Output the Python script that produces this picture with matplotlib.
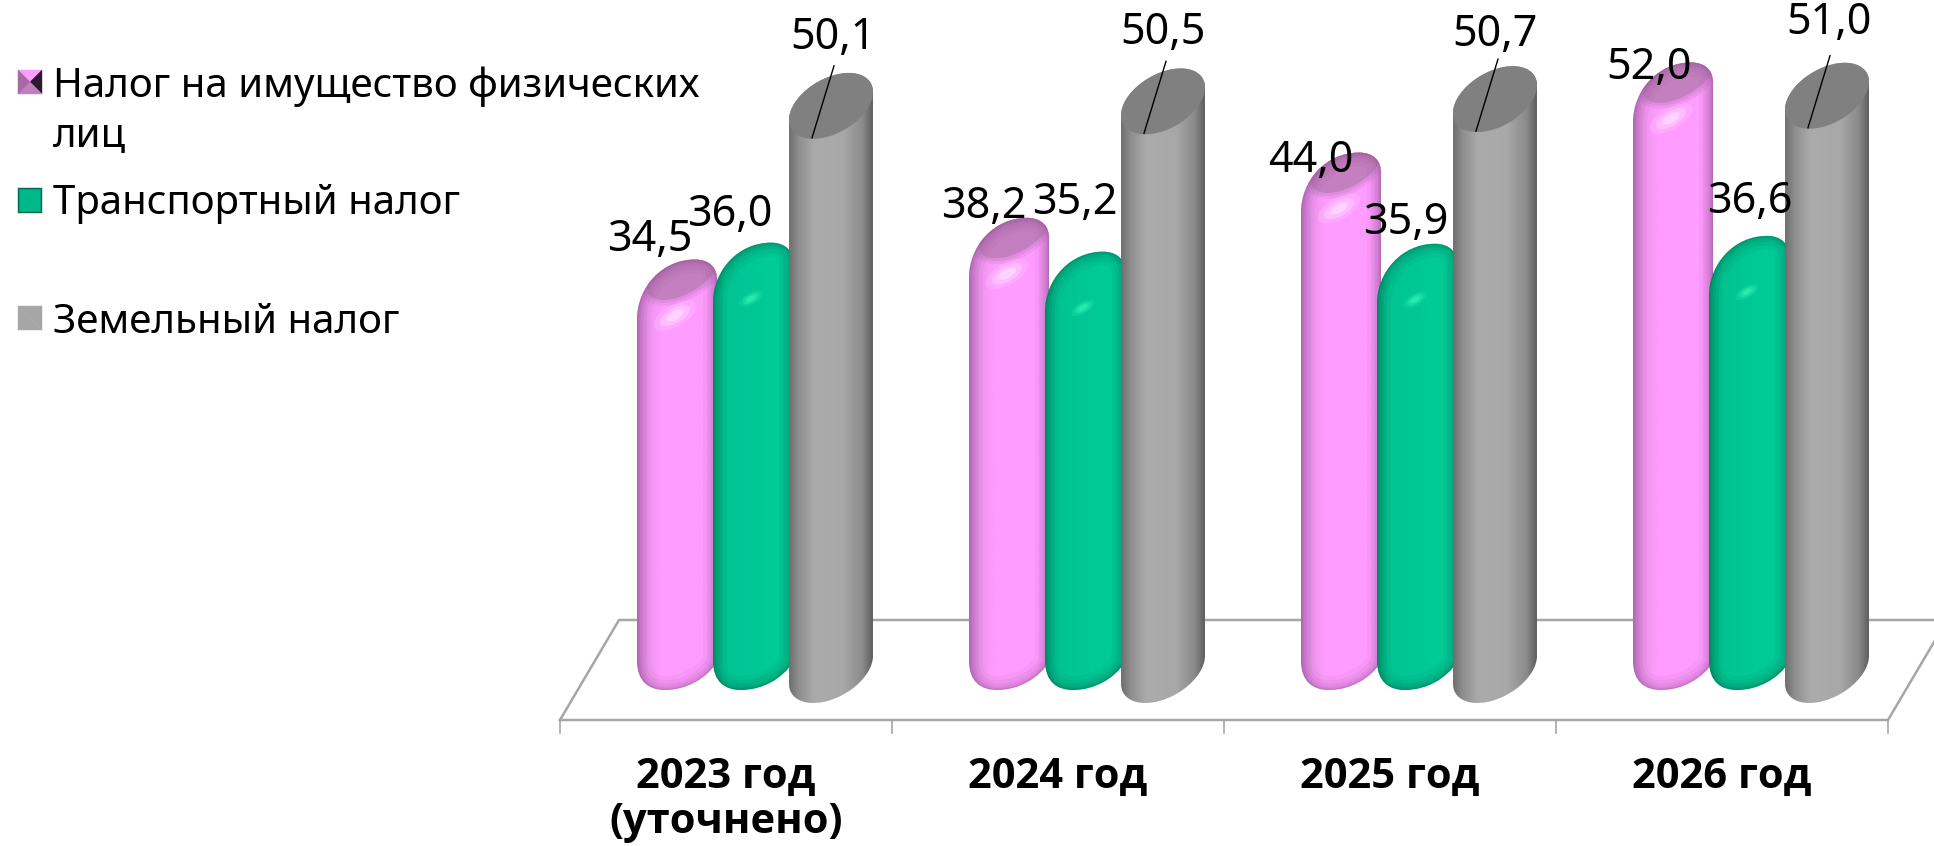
import numpy as np
import matplotlib
matplotlib.use('Agg')
import matplotlib.pyplot as plt
from matplotlib.colors import LinearSegmentedColormap
from matplotlib.patches import PathPatch, Polygon
from matplotlib.path import Path

years = ['2023 год\n(уточнено)', '2024 год', '2025 год', '2026 год']
property_tax = [34.5, 38.2, 44.0, 52.0]
transport_tax = [36.0, 35.2, 35.9, 36.6]
land_tax = [50.1, 50.5, 50.7, 51.0]
legend_labels = ['Налог на имущество физических\nлиц', 'Транспортный налог', 'Земельный налог']

# figure layout, in pixels of the 1934x846 picture
W, H = 1934, 846
X0, GROUP_W = 560, 332
Y0, UNIT = 670, 11.26
FONT = 'Noto Sans'
FONT_BOLD = 'Open Sans'
FS_TEXT = 29
FS_VALUE = 31
FS_TICK = 30

# label anchors per series: pixel offsets from the group start / absolute y
label_x = {'pink': [90, 92, 87, 93], 'green': [170, 183, 182, 194], 'gray': [273, 271, 271, 273]}
label_y = {'pink': [240, 207, 161, 68], 'green': [215, 203, 223, 202], 'gray': [38, 33, 35, 23]}


def px_x(p):
    return (p - X0) / GROUP_W


def px_y(p):
    return (Y0 - p) / UNIT


def arc(cx, cy, a, b, t1, t2, n=60):
    th = np.radians(30)
    t = np.linspace(t1, t2, n)
    x = a * np.cos(t) * np.cos(th) - b * np.sin(t) * np.sin(th)
    y = a * np.cos(t) * np.sin(th) + b * np.sin(t) * np.cos(th)
    return np.column_stack([cx + x / GROUP_W, cy + y / UNIT])


def right_t(a, b):
    th = np.radians(30)
    return np.arctan2(-b * np.sin(th), a * np.cos(th))


def cylinder_path(cx, y_bot, y_top, a, b):
    t0 = right_t(a, b)
    low = arc(cx, y_bot, a, b, t0 + np.pi, t0 + 2 * np.pi)
    up = arc(cx, y_top, a, b, t0, t0 + np.pi)
    pts = np.vstack([low, up, low[:1]])
    return Path(pts, closed=True)


def rounded_path(left, peak, bottom):
    # bevelled column outline: offsets in px from left edge, peak and bottom
    def p(dx, y, dy):
        return (left + dx / GROUP_W, y - dy / UNIT)
    verts = [p(0, bottom, -30),
             p(0, bottom, -8), p(12, bottom, 0), p(28, bottom, 0),
             p(50, bottom, 0), p(70, bottom, -12), p(80, bottom, -28),
             p(80, peak, 22),
             p(81, peak, 8), p(72, peak, 0), p(58, peak, 0),
             p(25, peak, 0), p(0, peak, 28), p(0, peak, 60),
             p(0, bottom, -30)]
    codes = [Path.MOVETO, Path.CURVE4, Path.CURVE4, Path.CURVE4, Path.CURVE4, Path.CURVE4, Path.CURVE4,
             Path.LINETO, Path.CURVE4, Path.CURVE4, Path.CURVE4, Path.CURVE4, Path.CURVE4, Path.CURVE4,
             Path.CLOSEPOLY]
    return Path(verts, codes)


def draw_gradient(ax, path, x1, x2, y1, y2, stops, z):
    cmap = LinearSegmentedColormap.from_list('c', stops)
    im = ax.imshow(np.linspace(0, 1, 256).reshape(1, -1), cmap=cmap, aspect='auto',
                   extent=[x1, x2, y1, y2], zorder=z, interpolation='bilinear')
    im.set_clip_path(PathPatch(path, transform=ax.transData, fc='none', ec='none'))


def inner_shadow(ax, path, color, z):
    for lw, al in [(20, 0.05), (14, 0.07), (9, 0.08), (5, 0.10), (2, 0.18)]:
        pp = PathPatch(path, fc='none', ec=color, lw=lw, alpha=al, zorder=z)
        ax.add_patch(pp)
        pp.set_clip_path(PathPatch(path, transform=ax.transData))


def rounded_bar(ax, i, off, value, stops, edge, cap, glow, glow_size, z):
    left = i + off / GROUP_W
    cx = left + 40 / GROUP_W
    peak = value + 22 / UNIT
    bottom = -20 / UNIT
    path = rounded_path(left, peak, bottom)
    draw_gradient(ax, path, left, left + 81 / GROUP_W, bottom, peak, stops, z)
    if cap is not None:
        # darker cap with a soft lower rim
        for da, al in [(6, 0.25), (3, 0.35), (0, 1.0)]:
            p = Polygon(arc(cx + 6 / GROUP_W, peak - 14 / UNIT, 40 + da, 20 + da, 0, 2 * np.pi),
                        fc=cap, ec='none', alpha=al, zorder=z + 0.1)
            ax.add_patch(p)
            p.set_clip_path(PathPatch(path, transform=ax.transData))
    gx, gy = cx - 2 / GROUP_W, peak - 56 / UNIT
    for s, al in [(1.0, 0.18), (0.7, 0.35), (0.4, 0.6)]:
        ax.add_patch(Polygon(arc(gx, gy, glow_size * s, glow_size * 0.45 * s, 0, 2 * np.pi),
                             fc=glow, ec='none', alpha=al, zorder=z + 0.2))
    inner_shadow(ax, path, edge, z + 0.3)


def gray_bar(ax, i, off, value, z):
    cx = i + off / GROUP_W
    a, b = 45.8, 27.4
    path = cylinder_path(cx, 0, value, a, b)
    stops = [(0, '#6e6e6e'), (0.12, '#8f8f8f'), (0.3, '#ababab'), (0.65, '#a8a8a8'), (0.88, '#8a8a8a'), (1, '#5e5e5e')]
    draw_gradient(ax, path, cx - 42 / GROUP_W, cx + 42 / GROUP_W, -40 / UNIT, value + 40 / UNIT, stops, z)
    ax.add_patch(Polygon(arc(cx, value, a, b, 0, 2 * np.pi), fc='#808080', ec='none', zorder=z + 0.1))
    # leader line from the value label into the cap
    ax.plot([cx + 3 / GROUP_W, cx - 19 / GROUP_W], [value + 40 / UNIT, value - 32 / UNIT],
            color='black', lw=1.0, zorder=z + 0.2)


fig = plt.figure(figsize=(W / 100, H / 100), dpi=100, facecolor='white')
ax = fig.add_axes([0, 0, 1, 1])
ax.set_xlim(px_x(0), px_x(W))
ax.set_ylim(px_y(H), px_y(0))
ax.set_autoscale_on(False)
ax.axis('off')

# floor
n = len(years)
floor_col = '#a6a6a6'
floor_front, floor_back = px_y(720), px_y(620)
slant = 59 / GROUP_W
ax.plot([0, n, n + slant, slant, 0], [floor_front, floor_front, floor_back, floor_back, floor_front],
        color=floor_col, lw=1.8, zorder=1)
for i in range(n + 1):
    ax.plot([i, i], [floor_front, px_y(733)], color=floor_col, lw=1.2, zorder=1)

pink_stops = [(0, '#d583d5'), (0.15, '#ef95ef'), (0.3, '#ff9cff'), (0.85, '#ff9cff'), (1, '#e18be1')]
green_stops = [(0, '#00b082'), (0.15, '#00c493'), (0.8, '#00cc98'), (1, '#00c08f')]

for i in range(n):
    rounded_bar(ax, i, 77, property_tax[i], pink_stops, '#7a3c7a', '#c47fc0', '#ffe4ff', 24, 2 + i * 0.01)
    rounded_bar(ax, i, 153, transport_tax[i], green_stops, '#004f3a', None, '#33f5b8', 13, 3 + i * 0.01)
    gray_bar(ax, i, 271, land_tax[i], 4 + i * 0.01)

# value labels
for key, vals in [('pink', property_tax), ('green', transport_tax), ('gray', land_tax)]:
    for i, v in enumerate(vals):
        ax.text(i + label_x[key][i] / GROUP_W, px_y(label_y[key][i]), f'{v:.1f}'.replace('.', ','),
                ha='center', va='center', fontsize=FS_VALUE, family=FONT, color='black', zorder=6)

# category labels
for i, lab in enumerate(years):
    ax.text(i + 0.5, px_y(788), lab.split('\n')[0], ha='center', va='baseline',
            fontsize=FS_TICK, family=FONT_BOLD, fontweight='bold', zorder=6)
    if '\n' in lab:
        ax.text(i + 0.5, px_y(833), lab.split('\n')[1], ha='center', va='baseline',
                fontsize=FS_TICK, family=FONT_BOLD, fontweight='bold', zorder=6)


# legend
def square(col_list, top, bot, l=18, r=42):
    l, r = px_x(l), px_x(r)
    t, b = px_y(top), px_y(bot)
    mx, my = (l + r) / 2, (t + b) / 2
    tris = [[(l, t), (r, t), (mx, my)], [(r, t), (r, b), (mx, my)], [(r, b), (l, b), (mx, my)], [(l, b), (l, t), (mx, my)]]
    for tri, col in zip(tris, col_list):
        ax.add_patch(Polygon(tri, fc=col, ec=col, lw=0.3, zorder=6))


square(['#ff9cff', '#2e1a2e', '#c080c0', '#a868a8'], 70, 94)
square(['#006a50'] * 4, 188, 213)
square(['#00b98b'] * 4, 189.5, 211.5, 19.5, 40.5)
square(['#a6a6a6'] * 4, 306, 330)

ax.text(px_x(53), px_y(97), legend_labels[0].split('\n')[0], va='baseline', fontsize=FS_TEXT, family=FONT)
ax.text(px_x(53), px_y(147), legend_labels[0].split('\n')[1], va='baseline', fontsize=FS_TEXT, family=FONT)
ax.text(px_x(53), px_y(214), legend_labels[1], va='baseline', fontsize=FS_TEXT, family=FONT)
ax.text(px_x(53), px_y(333), legend_labels[2], va='baseline', fontsize=FS_TEXT, family=FONT)

fig.savefig('out.png', dpi=100)
